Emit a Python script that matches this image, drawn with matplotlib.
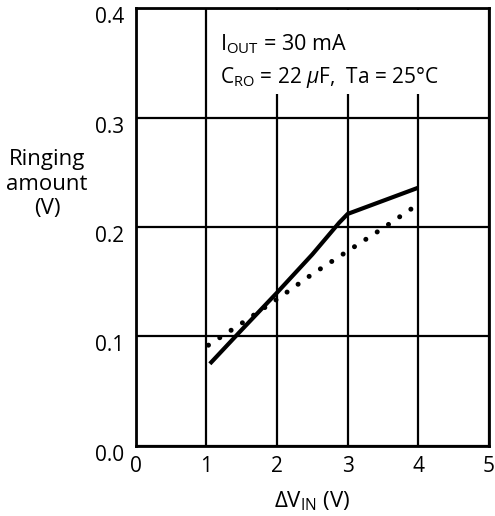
import matplotlib
matplotlib.use("Agg")
import matplotlib.pyplot as plt
from matplotlib.patches import Rectangle
from matplotlib.transforms import ScaledTranslation

plt.rcParams['font.family'] = ['Open Sans', 'DejaVu Sans']
plt.rcParams['mathtext.fontset'] = 'custom'
plt.rcParams['mathtext.rm'] = 'Open Sans'
plt.rcParams['mathtext.it'] = 'Open Sans:italic'
plt.rcParams['mathtext.bf'] = 'Open Sans:bold'

# Data
solid_x = [1.05, 1.5, 2.0, 2.5, 2.88, 3.0, 4.0]
solid_y = [0.075, 0.106, 0.140, 0.175, 0.204, 0.212, 0.236]
dotted_x = [1.03, 1.5, 2.0, 2.5, 3.0, 3.5, 4.0]
dotted_y = [0.092, 0.112, 0.134, 0.157, 0.178, 0.199, 0.221]

x_ticks = [0, 1, 2, 3, 4, 5]
y_ticks = [0.0, 0.1, 0.2, 0.3, 0.4]
y_ticklabels = ["0.0", "0.1", "0.2", "0.3", "0.4"]

fig = plt.figure(figsize=(4.95, 5.16), dpi=100)
ax = fig.add_axes([0.274, 0.136, 0.714, 0.848])

ax.set_xlim(0, 5)
ax.set_ylim(0, 0.4)
ax.set_xticks(x_ticks)
ax.set_yticks(y_ticks)
ax.set_yticklabels(y_ticklabels)
ax.grid(True, color='black', linewidth=1.6)
ax.set_axisbelow(True)
ax.tick_params(length=0, labelsize=15)
ax.tick_params(axis='x', pad=7)
ax.tick_params(axis='y', pad=8)
for lbl in ax.get_yticklabels():
    lbl.set_transform(lbl.get_transform() +
                      ScaledTranslation(0, -5 / 72, fig.dpi_scale_trans))
for s in ax.spines.values():
    s.set_linewidth(2)
    s.set_color('black')

# white area behind annotation
ax.add_patch(Rectangle((1.05, 0.322), 3.9, 0.076, facecolor='white',
                       edgecolor='none', zorder=1.5))

ax.plot(solid_x, solid_y, color='black', linewidth=3, zorder=3,
        solid_capstyle='butt')
ax.plot(dotted_x, dotted_y, color='black', linewidth=3.6, zorder=3,
        linestyle=(0, (0.01, 2.7)), dash_capstyle='round')

ax.text(1.2, 0.3616, r"I$_{\mathregular{OUT}}$ = 30 mA", fontsize=15.5,
        va='baseline', ha='left', zorder=4)
ax.text(1.2, 0.332, r"C$_{\mathregular{RO}}$ = 22 $\mathit{\mu}$F,  Ta = 25°C",
        fontsize=15, va='baseline', ha='left', zorder=4)

fig.text(47 / 495, 1 - 184 / 516, "Ringing\namount\n(V)", fontsize=16,
         ha='center', va='center', linespacing=1.2)
ax.set_xlabel(r"$\mathregular{\Delta V_{IN}}$ (V)", fontsize=16, labelpad=9)

fig.savefig("out.png", dpi=100)
